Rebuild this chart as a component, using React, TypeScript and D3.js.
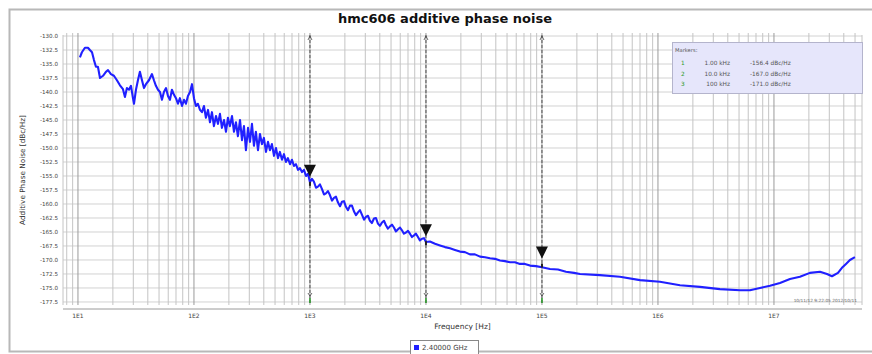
import React from 'react';
import * as d3 from 'd3';

// log10(frequency in Hz) of each trace point
const freqExp = [
  1.017, 1.034, 1.06, 1.086, 1.103, 1.121, 1.138, 1.155, 1.172, 1.19, 1.216, 1.241, 1.259, 1.284, 1.31, 1.336,
  1.362, 1.388, 1.405, 1.422, 1.44, 1.457, 1.474, 1.483, 1.5, 1.517, 1.534, 1.552, 1.569, 1.586, 1.612, 1.638,
  1.655, 1.672, 1.69, 1.707, 1.724, 1.741, 1.759, 1.776, 1.793, 1.81, 1.828, 1.845, 1.862, 1.879, 1.897, 1.914,
  1.931, 1.948, 1.966, 1.983, 2.0, 2.017, 2.034, 2.052,
  2.069, 2.086, 2.103, 2.121, 2.138, 2.155, 2.172, 2.19, 2.207, 2.224, 2.241, 2.259, 2.276, 2.293, 2.31, 2.328,
  2.345, 2.362, 2.379, 2.397, 2.414, 2.431, 2.448, 2.466, 2.483, 2.5, 2.517, 2.534, 2.552, 2.569, 2.586, 2.603,
  2.621, 2.638, 2.655, 2.672, 2.69, 2.707, 2.724, 2.741, 2.759, 2.776, 2.793, 2.81, 2.828, 2.845, 2.862, 2.879,
  2.897, 2.914, 2.931, 2.948, 2.966, 2.983, 3.0,
  3.017, 3.034, 3.052, 3.069, 3.086, 3.103, 3.121, 3.138, 3.155, 3.172, 3.19, 3.207, 3.224, 3.241, 3.259, 3.276,
  3.293, 3.31, 3.328, 3.345, 3.362, 3.379, 3.397, 3.414, 3.431, 3.448, 3.466, 3.483, 3.5, 3.517, 3.534, 3.552,
  3.569, 3.586, 3.603, 3.621, 3.638, 3.655, 3.672, 3.69, 3.707, 3.724, 3.741, 3.759, 3.776, 3.793, 3.81, 3.828,
  3.845, 3.862, 3.879, 3.897, 3.914, 3.931, 3.948, 3.966, 3.983, 4.0,
  4.034, 4.078, 4.121, 4.164, 4.207, 4.25, 4.293, 4.336, 4.379, 4.422, 4.466, 4.509, 4.552, 4.595, 4.638, 4.681,
  4.724, 4.767, 4.81, 4.853, 4.897, 4.948, 5.0, 5.069, 5.138, 5.207, 5.276, 5.328,
  5.5, 5.672, 5.845, 6.017, 6.19, 6.362, 6.534, 6.707, 6.793, 6.879, 6.966, 7.052, 7.138, 7.224, 7.31, 7.397,
  7.457, 7.5, 7.552, 7.586, 7.621, 7.655, 7.698,
];

// additive phase noise, dBc/Hz
const noiseDb = [
  -133.8, -132.9, -132.1, -132.1, -132.5, -132.9, -134.3, -135.5, -135.5, -137.5, -137.1, -136.4, -136.1, -136.8, -137.1, -137.9,
  -138.8, -139.5, -140.9, -139.3, -139.6, -138.9, -141.1, -142.1, -139.6, -137.9, -136.4, -137.9, -139.3, -138.6, -137.9, -136.8,
  -137.9, -138.9, -139.6, -140.0, -141.4, -140.0, -139.3, -140.7, -141.4, -139.6, -140.5, -141.1, -142.1, -141.1, -142.5, -141.4,
  -142.1, -140.7, -140.0, -138.6, -141.1, -142.5, -142.1, -143.2,
  -143.6, -142.5, -144.6, -143.2, -145.4, -143.6, -146.1, -144.3, -145.7, -143.9, -146.4, -145.0, -147.1, -144.6, -146.1, -144.3,
  -147.1, -145.4, -147.9, -145.0, -148.6, -146.1, -150.4, -146.4, -148.9, -145.7, -149.6, -147.1, -150.4, -147.5, -149.3, -148.2,
  -150.7, -148.9, -150.4, -149.3, -151.4, -150.0, -151.8, -150.7, -152.1, -151.1, -152.5, -151.8, -152.9, -152.1, -153.2, -152.9,
  -153.9, -153.6, -154.3, -153.9, -155.0, -154.6, -156.1,
  -155.5, -156.0, -157.1, -156.9, -156.5, -157.3, -158.3, -158.1, -157.7, -158.4, -159.4, -158.9, -158.7, -159.7, -160.4, -159.6,
  -159.5, -160.5, -161.1, -160.3, -160.3, -161.3, -162.0, -161.5, -161.1, -161.9, -162.8, -162.3, -162.1, -163.0, -163.4, -162.6,
  -162.5, -163.5, -163.9, -163.3, -163.0, -163.8, -164.4, -164.0, -163.7, -164.2, -164.9, -164.5, -164.2, -164.7, -165.3, -165.1,
  -164.8, -165.3, -165.9, -165.6, -165.3, -165.9, -166.5, -166.2, -166.1, -166.8,
  -166.7, -167.1, -167.4, -167.7, -167.9, -168.2, -168.5, -168.6, -169.0, -169.0, -169.4, -169.5, -169.7, -169.8, -170.1, -170.2,
  -170.4, -170.4, -170.7, -170.7, -171.0, -171.1, -171.3, -171.6, -171.7, -172.1, -172.3, -172.5,
  -172.7, -173.0, -173.6, -173.9, -174.5, -174.8, -175.2, -175.4, -175.4, -175.0, -174.6, -174.1, -173.4, -173.0, -172.3, -172.1,
  -172.5, -172.9, -172.3, -171.4, -170.7, -170.0, -169.5,
];

const yTickValues = [
  -130, -132.5, -135, -137.5, -140, -142.5, -145, -147.5, -150, -152.5,
  -155, -157.5, -160, -162.5, -165, -167.5, -170, -172.5, -175, -177.5,
];
const xTickValues = [1e1, 1e2, 1e3, 1e4, 1e5, 1e6, 1e7];
const xTickLabels = ['1E1', '1E2', '1E3', '1E4', '1E5', '1E6', '1E7'];

const markerIds = ['1', '2', '3'];
const markerFreqs = [1e3, 1e4, 1e5];
const markerVals = [-156.4, -167.0, -171.0];
const markerFreqText = ['1.00 kHz', '10.0 kHz', '100 kHz'];
const markerValText = ['-156.4  dBc/Hz', '-167.0  dBc/Hz', '-171.0  dBc/Hz'];

const titleText = 'hmc606 additive phase noise';
const seriesName = '2.40000 GHz';

const W = 872;
const H = 354;
const L = 63, R = 862, T = 35, B = 305;
const FONT = '"DejaVu Sans", Verdana, sans-serif';

export default function App() {
  const x = d3.scaleLog().domain([Math.pow(10, 0.871), Math.pow(10, 7.759)]).range([L, R]);
  const y = d3.scaleLinear().domain([-178.04, -129.82]).range([B, T]);

  const pts: [number, number][] = freqExp.map((e, i) => [Math.pow(10, e), noiseDb[i]]);
  const line = d3
    .line<[number, number]>()
    .x((d) => x(d[0]))
    .y((d) => y(d[1]))
    .curve(d3.curveLinear);

  const grid: { v: number; major: boolean }[] = [];
  for (let d = 0; d <= 7; d++) {
    for (let m = 1; m <= 9; m++) {
      const v = m * Math.pow(10, d);
      if (v >= x.domain()[0] && v <= x.domain()[1]) grid.push({ v, major: m === 1 });
    }
  }

  return (
    <svg
      width={W}
      height={H}
      style={{ position: 'absolute', left: 0, top: 0, background: '#fff' }}
      fontFamily={FONT}
    >
      {/* outer frame */}
      <rect x={9.5} y={9.5} width={W + 10} height={342} fill="none" stroke="#b8b8b8" strokeWidth={2} />

      {/* title */}
      <text x={445} y={23} textAnchor="middle" fontSize={13} fontWeight="bold" fill="#111">
        {titleText}
      </text>

      {/* horizontal grid */}
      {yTickValues.map((v) => (
        <line key={'h' + v} x1={L} x2={R} y1={y(v)} y2={y(v)} stroke="#d2d2d2" strokeWidth={1} />
      ))}
      {/* vertical grid */}
      {grid.map((g) => (
        <line
          key={'v' + g.v}
          x1={x(g.v)}
          x2={x(g.v)}
          y1={T - 2}
          y2={B}
          stroke={g.major ? '#9a9a9a' : '#c4c4c4'}
          strokeWidth={1}
        />
      ))}
      <line x1={L} x2={L} y1={T} y2={B} stroke="#c4c4c4" />
      <line x1={R} x2={R} y1={T} y2={B} stroke="#c4c4c4" />

      {/* x axis line */}
      <line x1={L} x2={R} y1={309} y2={309} stroke="#9a9a9a" strokeWidth={1} />

      {/* y tick labels */}
      {yTickValues.map((v) => (
        <text key={'yl' + v} x={58} y={y(v) + 2} textAnchor="end" fontSize={5.6} fill="#444">
          {v.toFixed(1)}
        </text>
      ))}
      {/* x tick labels */}
      {xTickValues.map((v, i) => (
        <text key={'xl' + v} x={x(v)} y={318} textAnchor="middle" fontSize={6} fill="#444">
          {xTickLabels[i]}
        </text>
      ))}

      {/* axis titles */}
      <text
        transform={`translate(25,${(T + B) / 2}) rotate(-90)`}
        textAnchor="middle"
        fontSize={7.3}
        fill="#333"
      >
        Additive Phase Noise [dBc/Hz]
      </text>
      <text x={(L + R) / 2} y={329} textAnchor="middle" fontSize={7.5} fill="#333">
        Frequency [Hz]
      </text>

      {/* marker lines */}
      {markerFreqs.map((f) => (
        <g key={'ml' + f}>
          <line x1={x(f)} x2={x(f)} y1={T} y2={B} stroke="#555" strokeWidth={1} strokeDasharray="3,2" />
          <path d={`M${x(f) - 2},${T + 5} L${x(f)},${T + 1} L${x(f) + 2},${T + 5}`} fill="none" stroke="#444" strokeWidth={0.8} />
          <path d={`M${x(f) - 2},${B - 12} L${x(f)},${B - 9} L${x(f) + 2},${B - 12}`} fill="none" stroke="#444" strokeWidth={0.8} />
          <line x1={x(f)} x2={x(f)} y1={B - 7} y2={B - 2} stroke="#2aa02a" strokeWidth={1.5} />
        </g>
      ))}

      {/* trace */}
      <path d={line(pts) || ''} fill="none" stroke="#2020ff" strokeWidth={2.1} strokeLinejoin="round" />

      {/* marker triangles */}
      {markerFreqs.map((f, i) => {
        const cx = x(f);
        const cy = y(markerVals[i]);
        return (
          <g key={'mt' + f}>
            <rect x={cx - 1} y={cy - 2} width={2} height={4} fill="#222" />
            <path d={`M${cx - 6},${cy - 19} L${cx + 6},${cy - 19} L${cx},${cy - 7} Z`} fill="#111" />
          </g>
        );
      })}

      {/* markers table */}
      <rect x={672.5} y={42.5} width={190} height={51} fill="#e6e6fb" stroke="#b4b4cc" strokeWidth={1} />
      <text x={675} y={52} fontSize={5.2} fill="#555">Markers:</text>
      {markerIds.map((id, i) => (
        <g key={'mk' + id}>
          <text x={681} y={65 + i * 10.5} fontSize={5.8} fill="#2a9a2a">{id}</text>
          <text x={730} y={65 + i * 10.5} fontSize={5.8} fill="#555" textAnchor="end">{markerFreqText[i]}</text>
          <text x={750} y={65 + i * 10.5} fontSize={5.8} fill="#555">{markerValText[i]}</text>
        </g>
      ))}

      {/* timestamp */}
      <text x={857} y={302} textAnchor="end" fontSize={4.3} fill="#666">10/11/12 9:22:05  2012/10/11</text>

      {/* legend */}
      <rect x={410.5} y={340.5} width={68} height={14} fill="#fff" stroke="#888" strokeWidth={1} />
      <rect x={414} y={345} width={5} height={5} fill="#2020ff" />
      <text x={422} y={350} fontSize={7} fill="#444">{seriesName}</text>
    </svg>
  );
}
